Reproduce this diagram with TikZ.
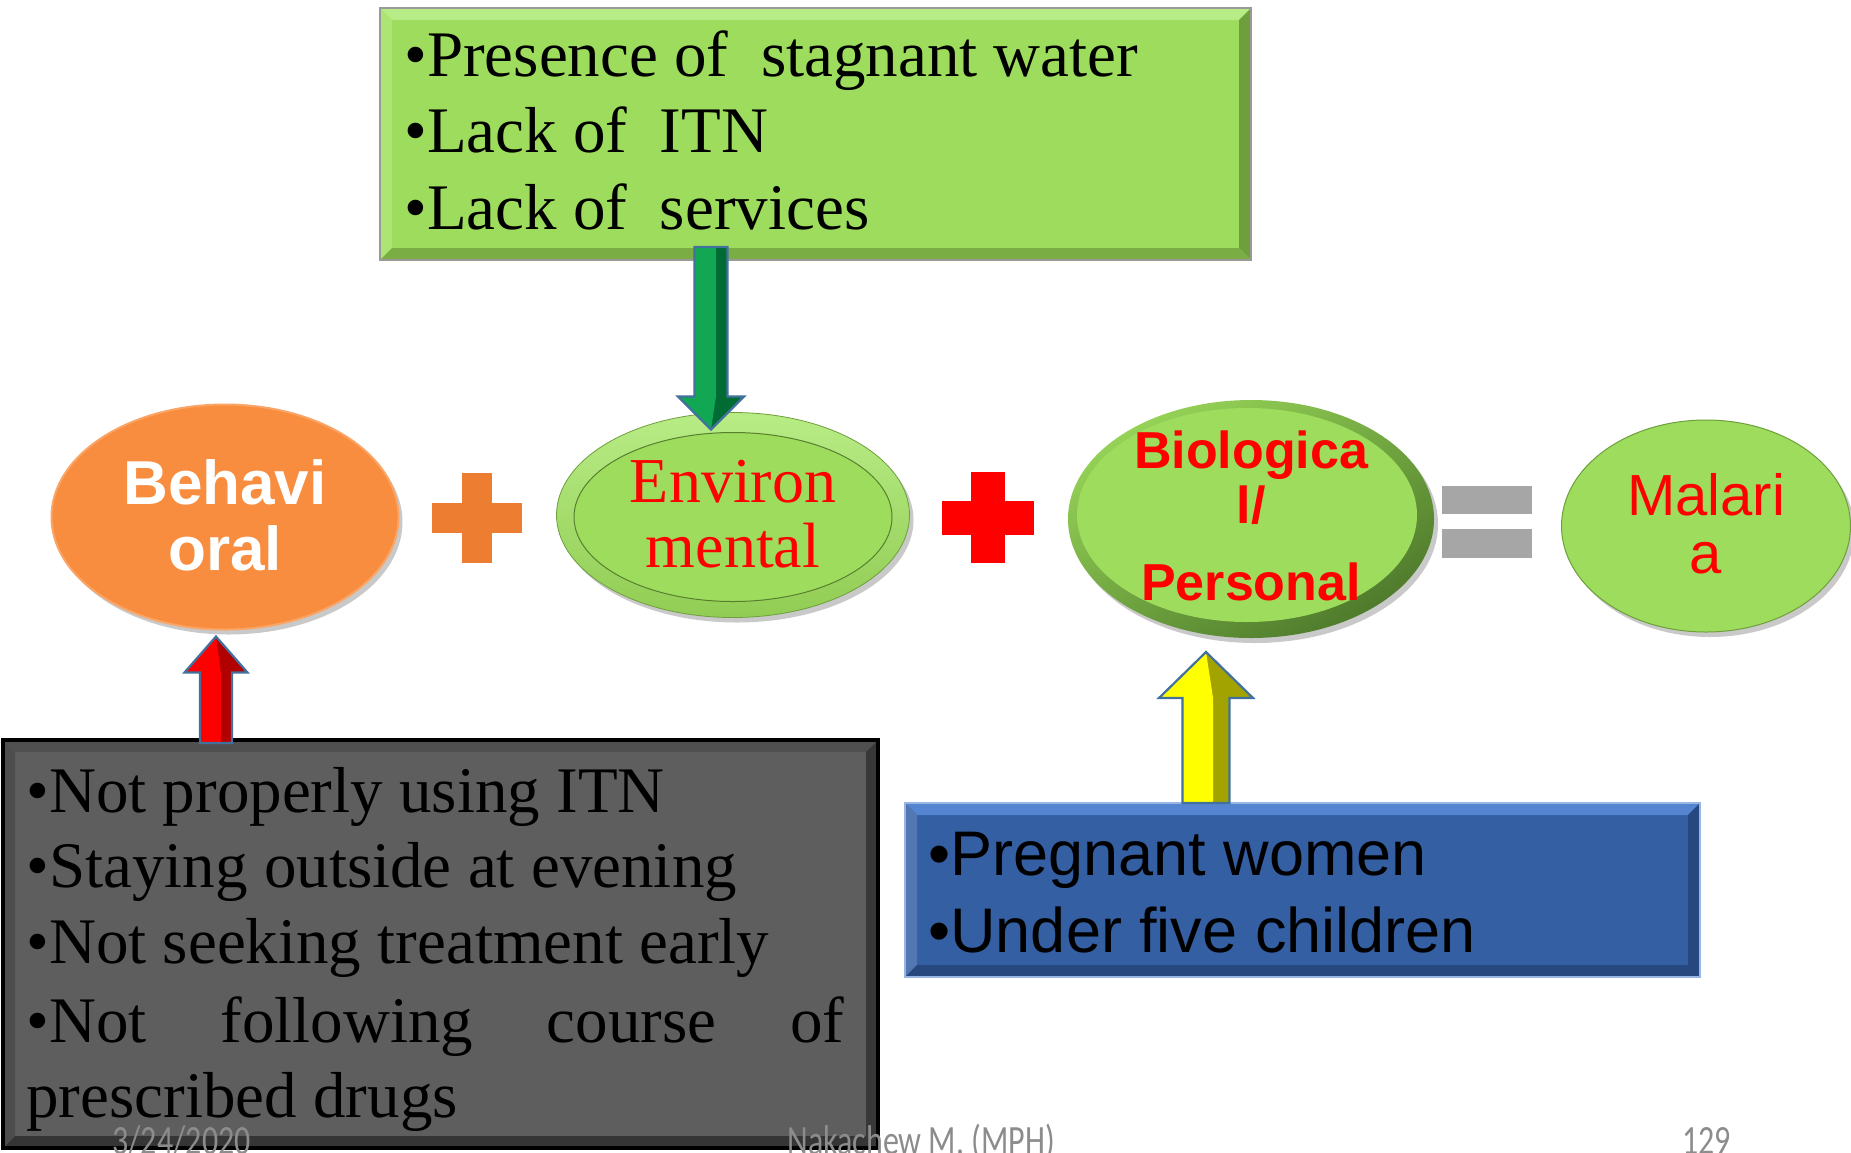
\documentclass[tikz,border=0pt]{standalone}
\usepackage{fontspec}
\setmainfont{Liberation Serif}
\newfontfamily\arialf{Liberation Sans}
\newfontfamily\calibrif{Carlito}
\usetikzlibrary{shapes.geometric,calc,shadows}

\definecolor{leafgreen}{HTML}{9DDC5C}
\definecolor{leaflight}{HTML}{B8EC86}
\definecolor{leafdark}{HTML}{6E9F3C}
\definecolor{leafdeep}{HTML}{4E7A2B}
\definecolor{ballorange}{HTML}{F98D3F}
\definecolor{plusorange}{HTML}{ED7D31}
\definecolor{slate}{HTML}{5E5E5E}
\definecolor{slatedark}{HTML}{464646}
\definecolor{royal}{HTML}{355FA3}
\definecolor{royallight}{HTML}{5585D0}
\definecolor{royaldark}{HTML}{27477F}
\definecolor{edgeblue}{HTML}{41719C}
\definecolor{footgray}{HTML}{8C8C8C}
\definecolor{eqgray}{HTML}{A6A6A6}
\definecolor{arrowgreen}{HTML}{12A853}
\definecolor{arrowgreendark}{HTML}{006B33}
\definecolor{arrowred}{HTML}{FF0000}
\definecolor{arrowreddark}{HTML}{B00000}
\definecolor{arrowyellow}{HTML}{FFFF00}
\definecolor{arrowyellowdark}{HTML}{A3A300}

% one drawing unit is half a point
\newcommand{\upx}{*0.5pt}

% bevelled rim of a panel: node, rim width, top, left, right, bottom colours
\newcommand{\bevel}[6]{%
  \fill[#3] (#1.north west) -- (#1.north east) -- ([shift={(-#2,#2)}]#1.north east) -- ([shift={(#2,#2)}]#1.north west) -- cycle;
  \fill[#4] (#1.north west) -- (#1.south west) -- ([shift={(#2,-#2)}]#1.south west) -- ([shift={(#2,#2)}]#1.north west) -- cycle;
  \fill[#5] (#1.north east) -- (#1.south east) -- ([shift={(-#2,-#2)}]#1.south east) -- ([shift={(-#2,#2)}]#1.north east) -- cycle;
  \fill[#6] (#1.south west) -- (#1.south east) -- ([shift={(-#2,-#2)}]#1.south east) -- ([shift={(#2,-#2)}]#1.south west) -- cycle;
}

% vertical block arrow: tail, tip, shaft half width, head half width,
% offset of the head base from the tip (canvas, signed), light, dark colour
\newcommand{\blockarrow}[7]{%
  \fill[#7] let \p1=(#1),\p2=(#2) in
    ({\x1-#3},\y1) -- ({\x1-#3},{\y2+(#5)}) -- ({\x2-#4},{\y2+(#5)}) -- (\x2,\y2)
    -- ({\x2+#4},{\y2+(#5)}) -- ({\x1+#3},{\y2+(#5)}) -- ({\x1+#3},\y1) -- cycle;
  \fill[#6] let \p1=(#1),\p2=(#2) in
    ({\x1-#3},\y1) -- ({\x1-#3},{\y2+(#5)}) -- ({\x2-#4},{\y2+(#5)}) -- (\x2,\y2)
    -- ({\x2+0.3*#3},{\y2+(#5)}) -- ({\x1+0.3*#3},\y1) -- cycle;
  \draw[draw=edgeblue, line width=1.1pt, line join=miter] let \p1=(#1),\p2=(#2) in
    ({\x1-#3},\y1) -- ({\x1-#3},{\y2+(#5)}) -- ({\x2-#4},{\y2+(#5)}) -- (\x2,\y2)
    -- ({\x2+#4},{\y2+(#5)}) -- ({\x1+#3},{\y2+(#5)}) -- ({\x1+#3},\y1) -- cycle;
}

\begin{document}
\begin{tikzpicture}[x=0.5pt,y=-0.5pt,
  panel/.style={rectangle, inner sep=0, outer sep=0, anchor=north west},
  ball/.style={ellipse, inner sep=0, outer sep=0},
  ballshadow/.style={drop shadow={shadow xshift=2pt, shadow yshift=-2.5pt, opacity=.35, fill=black!60}},
  serifline/.style={anchor=base west, inner sep=0, font=\fontsize{32.5}{39}\selectfont},
  sansline/.style={anchor=base west, inner sep=0, font=\arialf\fontsize{31.5}{38}\selectfont},
  balltext/.style={anchor=base, inner sep=0},
  foot/.style={anchor=base west, inner sep=0, text=footgray, font=\calibrif\fontsize{16}{19}\selectfont}
]
\useasboundingbox (0,0) rectangle (1851,1152);
\clip (0,0) rectangle (1851,1152);
\fill[white] (0,0) rectangle (1851,1152);

% ---- environmental factors panel
\node[panel, fill=leafgreen, minimum width=871\upx, minimum height=252\upx] (envbox) at (380,8) {};
\bevel{envbox}{12}{leaflight}{leaflight!60!leafgreen}{leafdark}{leafdark!75!leafgreen}
\draw[gray!80, line width=0.6pt] (envbox.north west) rectangle (envbox.south east);
\node[serifline] (envA) at (404,76) {•Presence of\ \ stagnant water};
\node[serifline] (envB) at (404,152) {•Lack of\ \ ITN};
\node[serifline] (envC) at (404,229) {•Lack of\ \ services};

% ---- behavioural factors panel
\node[panel, fill=slate, minimum width=875\upx, minimum height=408\upx] (behbox) at (3,740) {};
\bevel{behbox}{12}{slatedark!60!slate}{slatedark!70!slate}{slatedark!80!black}{slatedark!75!black}
\draw[black, line width=2.2pt] (behbox.north west) rectangle (behbox.south east);
\node[serifline] (behA) at (26,812) {•Not properly using ITN};
\node[serifline] (behB) at (26,887) {•Staying outside at evening};
\node[serifline] (behC) at (26,963) {•Not seeking treatment early};
\node[serifline] (behD) at (26,1042) {\hbox to 409pt{•Not\hfill following\hfill course\hfill of}};
\node[serifline] (behE) at (26,1117) {prescribed drugs};

% ---- biological factors panel
\node[panel, fill=royal, minimum width=795\upx, minimum height=174\upx] (biobox) at (905,803) {};
\bevel{biobox}{12}{royallight}{royal!85!white}{royaldark}{royaldark}
\draw[royallight!60!white, line width=0.6pt] (biobox.north west) rectangle (biobox.south east);
\node[sansline] (bioA) at (928,875) {•Pregnant women};
\node[sansline] (bioB) at (928,952) {•Under five children};

% ---- the four balls
\node[ball, ballshadow, fill=ballorange, draw=ballorange!80!white, line width=1pt,
      minimum width=347\upx, minimum height=225\upx] (beh) at (225,517) {};
\node[ball, ballshadow, top color=leaflight, bottom color=leafgreen!75!leafdark, draw=leafdark, line width=0.4pt,
      minimum width=353\upx, minimum height=205\upx] (env) at (733,515) {};
\node[ball, fill=leafgreen, draw=leafdark!80!black, line width=0.5pt,
      minimum width=318\upx, minimum height=169\upx] (envcore) at (733,517) {};
\node[ball, ballshadow, top color=leafgreen!85!leafdark, bottom color=leafdeep, shading angle=30,
      minimum width=366\upx, minimum height=238\upx] (bio) at (1251,519) {};
\node[ball, fill=leafgreen, minimum width=340\upx, minimum height=214\upx] (biocore) at (1247,515) {};
\node[ball, ballshadow, fill=leafgreen, draw=leafdark, line width=0.5pt,
      minimum width=289\upx, minimum height=212\upx] (mal) at (1706,526) {};

\node[balltext, text=white, font=\arialf\bfseries\fontsize{31}{37}\selectfont] (behT1) at ($(beh.center)+(0,-13)$) {Behavi};
\node[balltext, text=white, font=\arialf\bfseries\fontsize{31}{37}\selectfont] (behT2) at ($(beh.center)+(0,53)$) {oral};
\node[balltext, text=red, font=\fontsize{32}{38}\selectfont] (envT1) at ($(env.center)+(0,-13)$) {Environ};
\node[balltext, text=red, font=\fontsize{32}{38}\selectfont] (envT2) at ($(env.center)+(0,52)$) {mental};
\node[balltext, text=red, font=\arialf\bfseries\fontsize{26}{31}\selectfont] (bioT1) at ($(bio.center)+(0,-51)$) {Biologica};
\node[balltext, text=red, font=\arialf\bfseries\fontsize{26}{31}\selectfont] (bioT2) at ($(bio.center)+(0,4)$) {l/};
\node[balltext, text=red, font=\arialf\bfseries\fontsize{26}{31}\selectfont] (bioT3) at ($(bio.center)+(0,81)$) {Personal};
\node[balltext, text=red, font=\arialf\fontsize{29}{35}\selectfont] (malT1) at ($(mal.center)+(0,-11)$) {Malari};
\node[balltext, text=red, font=\arialf\fontsize{29}{35}\selectfont] (malT2) at ($(mal.center)+(0,47)$) {a};

% ---- operators
\fill[plusorange] (432,503) rectangle (522,533);
\fill[plusorange] (462,473) rectangle (492,563);
\fill[red] (942,501) rectangle (1034,535);
\fill[red] (971,472) rectangle (1005,563);
\fill[eqgray] (1442,486) rectangle (1532,514);
\fill[eqgray] (1442,529) rectangle (1532,558);

% ---- arrows feeding the balls
\coordinate (gx) at (711,0);
\coordinate (rx) at (216,0);
\coordinate (yx) at (1206,0);
\coordinate (gtail) at ($(gx |- envbox.south)+(0,-13)$);
\coordinate (gtip)  at ($(gx |- env.north)+(0,17)$);
\coordinate (rtail) at ($(rx |- behbox.north)+(0,3)$);
\coordinate (rtip)  at ($(rx |- beh.south)+(0,7)$);
\coordinate (ytail) at (yx |- biobox.north);
\coordinate (ytip)  at ($(yx |- bio.south)+(0,14)$);
\blockarrow{gtail}{gtip}{8.25pt}{16.5pt}{16.5pt}{arrowgreen}{arrowgreendark}
\blockarrow{rtail}{rtip}{8pt}{15.75pt}{-18pt}{arrowred}{arrowreddark}
\blockarrow{ytail}{ytip}{11.75pt}{23.5pt}{-23pt}{arrowyellow}{arrowyellowdark}

% ---- footer
\node[foot] (date) at (112,1154) {\scalebox{1}[1.3]{3/24/2020}};
\node[foot] (author) at (787,1154) {\scalebox{1}[1.3]{Nakachew M. (MPH)}};
\node[foot] (page) at (1682,1154) {\scalebox{1}[1.3]{129}};
\end{tikzpicture}
\end{document}
